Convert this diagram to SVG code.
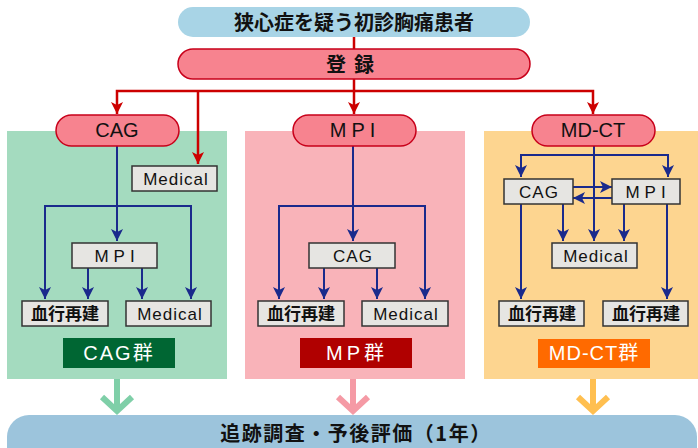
<svg xmlns="http://www.w3.org/2000/svg" width="698" height="448" viewBox="0 0 698 448">
<style>
.jp{font-family:"Noto Sans CJK JP","Liberation Sans",sans-serif;font-weight:bold;fill:#111;text-anchor:middle}
.lat{font-family:"Liberation Sans","Noto Sans CJK JP",sans-serif;fill:#111;text-anchor:middle}
.pill{fill:#f7838f;stroke:#c8001a;stroke-width:1.5}
.box{fill:#e6e5e2;stroke:#333;stroke-width:1.5}
.red{stroke:#cc0000;stroke-width:2.5;fill:none}
.blue{stroke:#1a2a8c;stroke-width:2;fill:none}
.lbl{font-family:"Liberation Sans","Noto Sans CJK JP",sans-serif;fill:#fff;text-anchor:middle;font-size:20px}
</style>
<defs>
<marker id="ar" markerUnits="userSpaceOnUse" markerWidth="12" markerHeight="12" viewBox="0 0 12 12" refX="12" refY="6" orient="auto-start-reverse"><path d="M0,0 L12,6 L0,12 L3,6 z" fill="#cc0000"/></marker>
<marker id="ab" markerUnits="userSpaceOnUse" markerWidth="12" markerHeight="12" viewBox="0 0 12 12" refX="12" refY="6" orient="auto-start-reverse"><path d="M0,0 L12,6 L0,12 L3,6 z" fill="#1a2a8c"/></marker>
</defs>

<!-- panels -->
<rect x="7" y="131" width="220" height="248" fill="#a4dbbf"/>
<rect x="245" y="131" width="220" height="248" fill="#f9b3b9"/>
<rect x="484" y="131" width="214" height="248" fill="#fdd590"/>

<g id="connectors">
<line class="red" x1="354" y1="37" x2="354" y2="49"/>
<line class="red" x1="354" y1="79" x2="354" y2="91"/>
<polyline class="red" points="117,114 117,91 593,91 593,114" marker-start="url(#ar)" marker-end="url(#ar)"/>
<line class="red" x1="354" y1="91" x2="354" y2="114" marker-end="url(#ar)"/>
<line class="red" x1="198" y1="91" x2="198" y2="164" marker-end="url(#ar)"/>

<!-- CAG panel -->
<line class="blue" x1="117" y1="146" x2="117" y2="241" marker-end="url(#ab)"/>
<polyline class="blue" points="45,299 45,206 191,206 191,299" marker-start="url(#ab)" marker-end="url(#ab)"/>
<line class="blue" x1="88" y1="268" x2="88" y2="299" marker-end="url(#ab)"/>
<line class="blue" x1="142" y1="268" x2="142" y2="299" marker-end="url(#ab)"/>

<!-- MPI panel -->
<line class="blue" x1="353" y1="146" x2="353" y2="241" marker-end="url(#ab)"/>
<polyline class="blue" points="279,299 279,206 425,206 425,299" marker-start="url(#ab)" marker-end="url(#ab)"/>
<line class="blue" x1="324" y1="268" x2="324" y2="299" marker-end="url(#ab)"/>
<line class="blue" x1="377" y1="268" x2="377" y2="299" marker-end="url(#ab)"/>

<!-- MD-CT panel -->
<line class="blue" x1="594" y1="146" x2="594" y2="241" marker-end="url(#ab)"/>
<polyline class="blue" points="521,177 521,155 668,155 668,177" marker-start="url(#ab)" marker-end="url(#ab)"/>
<line class="blue" x1="573" y1="187" x2="612" y2="187" marker-end="url(#ab)"/>
<line class="blue" x1="612" y1="198" x2="573" y2="198" marker-end="url(#ab)"/>
<line class="blue" x1="521" y1="204" x2="521" y2="299" marker-end="url(#ab)"/>
<line class="blue" x1="563" y1="204" x2="563" y2="241" marker-end="url(#ab)"/>
<line class="blue" x1="624" y1="204" x2="624" y2="241" marker-end="url(#ab)"/>
<line class="blue" x1="667" y1="204" x2="667" y2="299" marker-end="url(#ab)"/>

<!-- down arrows -->
<g fill="none" stroke-width="6" stroke-linejoin="miter">
<path d="M117,379 V411 M102,397 L117,411 L132,397" stroke="#7fcfa8"/>
<path d="M353,379 V411 M338,397 L353,411 L368,397" stroke="#f59aa5"/>
<path d="M593,379 V411 M578,397 L593,411 L608,397" stroke="#ffbf50"/>
</g>
</g>

<g id="n-top">
<rect x="178" y="7" width="352" height="30" rx="15" fill="#a8d4e6"/>
<text class="jp" x="354" y="30" font-size="20">狭心症を疑う初診胸痛患者</text>
</g>
<g id="n-reg">
<rect class="pill" x="178" y="49" width="352" height="30" rx="15"/>
<text class="jp" x="354" y="72" font-size="20" letter-spacing="8">登録</text>
</g>

<g id="n-cag">
<rect class="pill" x="56" y="115" width="123" height="31" rx="15.5"/>
<text class="lat" x="117" y="137" font-size="20">CAG</text>
</g>
<g id="n-mpi">
<rect class="pill" x="293" y="115" width="123" height="31" rx="15.5"/>
<text class="lat" x="355" y="137" font-size="20" letter-spacing="5">MPI</text>
</g>
<g id="n-mdct">
<rect class="pill" x="532" y="115" width="123" height="31" rx="15.5"/>
<text class="lat" x="593" y="137" font-size="20">MD-CT</text>
</g>

<!-- CAG panel boxes -->
<g id="cag-med1"><rect class="box" x="132" y="166" width="85" height="25"/><text class="lat" x="176" y="185" font-size="17" letter-spacing="1">Medical</text></g>
<g id="cag-mpi"><rect class="box" x="72" y="243" width="85" height="25"/><text class="lat" x="117" y="262" font-size="17" letter-spacing="5">MPI</text></g>
<g id="cag-rev"><rect class="box" x="22" y="301" width="86" height="25"/><text class="jp" x="65" y="320" font-size="17">血行再建</text></g>
<g id="cag-med2"><rect class="box" x="126" y="301" width="85" height="25"/><text class="lat" x="170" y="320" font-size="17" letter-spacing="1">Medical</text></g>
<g id="cag-grp"><rect x="63" y="338" width="112" height="30" fill="#006633"/><text class="lbl" x="119" y="360" letter-spacing="2">CAG群</text></g>

<!-- MPI panel boxes -->
<g id="mpi-cag"><rect class="box" x="309" y="243" width="86" height="25"/><text class="lat" x="353" y="262" font-size="17" letter-spacing="1">CAG</text></g>
<g id="mpi-rev"><rect class="box" x="258" y="301" width="86" height="25"/><text class="jp" x="301" y="320" font-size="17">血行再建</text></g>
<g id="mpi-med"><rect class="box" x="362" y="301" width="86" height="25"/><text class="lat" x="406" y="320" font-size="17" letter-spacing="1">Medical</text></g>
<g id="mpi-grp"><rect x="300" y="338" width="112" height="30" fill="#b00000"/><text class="lbl" x="357" y="360" letter-spacing="4">MP群</text></g>

<!-- MD-CT panel boxes -->
<g id="md-cag"><rect class="box" x="504" y="179" width="69" height="25"/><text class="lat" x="539" y="198" font-size="17" letter-spacing="1">CAG</text></g>
<g id="md-mpi"><rect class="box" x="612" y="179" width="68" height="25"/><text class="lat" x="648" y="198" font-size="17" letter-spacing="5">MPI</text></g>
<g id="md-med"><rect class="box" x="552" y="243" width="85" height="25"/><text class="lat" x="596" y="262" font-size="17" letter-spacing="1">Medical</text></g>
<g id="md-rev1"><rect class="box" x="499" y="301" width="85" height="25"/><text class="jp" x="542" y="320" font-size="17">血行再建</text></g>
<g id="md-rev2"><rect class="box" x="603" y="301" width="85" height="25"/><text class="jp" x="646" y="320" font-size="17">血行再建</text></g>
<g id="md-grp"><rect x="538" y="339" width="112" height="29" fill="#ff6a00"/><text class="lbl" x="594" y="360" letter-spacing="1">MD-CT群</text></g>

<g id="n-bottom">
<rect x="7" y="415" width="690" height="60" rx="22" fill="#9cc4dc"/>
<text class="jp" x="356" y="441" font-size="20" letter-spacing="1.5">追跡調査・予後評価（1年）</text>
</g>
</svg>
